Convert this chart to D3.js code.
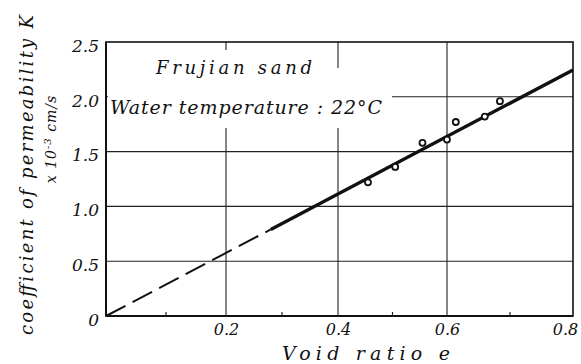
<!DOCTYPE html>
<html>
<head>
<meta charset="utf-8">
<script src="https://cdn.jsdelivr.net/npm/d3@7"></script>
<style>
  body { margin: 0; background: #fff; }
  text { font-family: "DejaVu Serif", serif; font-style: italic; fill: #111; }
</style>
</head>
<body>
<div class="svg-container"></div>
<script>
// data
const voidRatio = [0.455, 0.505, 0.555, 0.6, 0.614, 0.66, 0.684];
const permeability = [1.22, 1.36, 1.58, 1.61, 1.77, 1.82, 1.96];
const fitDashed = [[0, 0], [0.28, 0.79]];
const fitSolid = [[0.28, 0.79], [0.8, 2.245]];
const xTicks = [0.2, 0.4, 0.6, 0.8];
const xMinorTicks = [0.1, 0.3, 0.5, 0.7];
const yTicks = [0, 0.5, 1.0, 1.5, 2.0, 2.5];

const width = 581;
const height = 364;

const svg = d3.select('.svg-container').append('svg')
  .attr('width', width)
  .attr('height', height);

// hand drawn grid is a little uneven, so the x scale follows the printed ticks
const x = d3.scaleLinear()
  .domain([0, 0.2, 0.4, 0.6, 0.8])
  .range([106, 226, 338, 447, 573]);
const y = d3.scaleLinear()
  .domain([0, 2.5])
  .range([316, 42]);

// gridlines
const grid = svg.append('g');
grid.selectAll('.vgrid')
  .data(xTicks.slice(0, 3))
  .enter().append('line')
  .attr('x1', d => x(d)).attr('x2', d => x(d))
  .attr('y1', y(0)).attr('y2', y(2.5))
  .attr('stroke', '#222').attr('stroke-width', 1.1);
grid.selectAll('.hgrid')
  .data(yTicks.slice(1, 5))
  .enter().append('line')
  .attr('x1', x(0)).attr('x2', x(0.8))
  .attr('y1', d => y(d)).attr('y2', d => y(d))
  .attr('stroke', '#222').attr('stroke-width', 1.1);

// blank areas behind the annotations
svg.append('rect').attr('x', 108).attr('y', 86).attr('width', 284).attr('height', 42).attr('fill', '#fff');
svg.append('rect').attr('x', 150).attr('y', 50).attr('width', 172).attr('height', 40).attr('fill', '#fff');
svg.append('rect').attr('x', 330).attr('y', 68).attr('width', 16).attr('height', 22).attr('fill', '#fff');

// minor ticks
svg.selectAll('.minor')
  .data(xMinorTicks)
  .enter().append('line')
  .attr('x1', d => x(d)).attr('x2', d => x(d))
  .attr('y1', y(0)).attr('y2', y(0) - 4)
  .attr('stroke', '#222').attr('stroke-width', 1.2);

// frame
svg.append('rect')
  .attr('x', x(0)).attr('y', y(2.5))
  .attr('width', x(0.8) - x(0)).attr('height', y(0) - y(2.5))
  .attr('fill', 'none').attr('stroke', '#111').attr('stroke-width', 1.6);
svg.append('line')
  .attr('x1', x(0)).attr('x2', x(0)).attr('y1', y(0)).attr('y2', y(2.5))
  .attr('stroke', '#111').attr('stroke-width', 2);
svg.append('line')
  .attr('x1', x(0)).attr('x2', x(0.8)).attr('y1', y(0)).attr('y2', y(0))
  .attr('stroke', '#111').attr('stroke-width', 2);

// axes labels via d3 axes
const xAxis = d3.axisBottom(x).tickValues(xTicks).tickSize(0).tickPadding(0)
  .tickFormat(d3.format('.1f'));
svg.append('g')
  .attr('transform', `translate(0, ${y(0)})`)
  .call(xAxis)
  .call(g => g.select('.domain').remove())
  .call(g => g.selectAll('text')
    .attr('y', 19).attr('dy', 0)
    .style('font-size', '16px')
    .attr('dx', d => d === 0.8 ? -8 : 0));

const yAxis = d3.axisLeft(y).tickValues(yTicks).tickSize(0).tickPadding(7)
  .tickFormat(d => d === 0 ? '0' : d3.format('.1f')(d));
svg.append('g')
  .attr('transform', `translate(${x(0)}, 0)`)
  .call(yAxis)
  .call(g => g.select('.domain').remove())
  .call(g => g.selectAll('text')
    .style('font-size', '17px')
    .attr('dy', '0.55em'));

// fitted line
const line = d3.line().x(d => x(d[0])).y(d => y(d[1]));
svg.append('path')
  .datum(fitDashed)
  .attr('d', line)
  .attr('fill', 'none').attr('stroke', '#111')
  .attr('stroke-width', 2).attr('stroke-dasharray', '22 8');
svg.append('path')
  .datum(fitSolid)
  .attr('d', line)
  .attr('fill', 'none').attr('stroke', '#111')
  .attr('stroke-width', 3.4);

// measured points
svg.selectAll('.pt')
  .data(voidRatio)
  .enter().append('circle')
  .attr('cx', d => x(d))
  .attr('cy', (d, i) => y(permeability[i]))
  .attr('r', 3)
  .attr('fill', '#fff').attr('stroke', '#111').attr('stroke-width', 1.8);

// annotations
svg.append('text').attr('x', 156).attr('y', 74)
  .attr('textLength', 156).attr('lengthAdjust', 'spacing')
  .style('font-size', '18px').text('Frujian sand');
svg.append('text').attr('x', 110).attr('y', 114)
  .attr('textLength', 272).attr('lengthAdjust', 'spacing')
  .style('font-size', '19px').text('Water temperature : 22°C');

svg.append('text')
  .attr('x', 282).attr('y', 360)
  .attr('textLength', 168).attr('lengthAdjust', 'spacing')
  .style('font-size', '19px')
  .text('Void ratio  e');

svg.append('text')
  .attr('transform', 'translate(33, 335) rotate(-90)')
  .attr('textLength', 320).attr('lengthAdjust', 'spacing')
  .style('font-size', '18px')
  .text('coefficient of permeability K');

const unit = svg.append('text')
  .attr('transform', 'translate(56, 139) rotate(-90)')
  .style('text-anchor', 'middle').style('font-size', '14px')
  .style('letter-spacing', '1px');
unit.append('tspan').text('x 10');
unit.append('tspan').attr('dy', -5).style('font-size', '10px').text('-3');
unit.append('tspan').attr('dy', 5).text(' cm/s');
</script>
</body>
</html>
